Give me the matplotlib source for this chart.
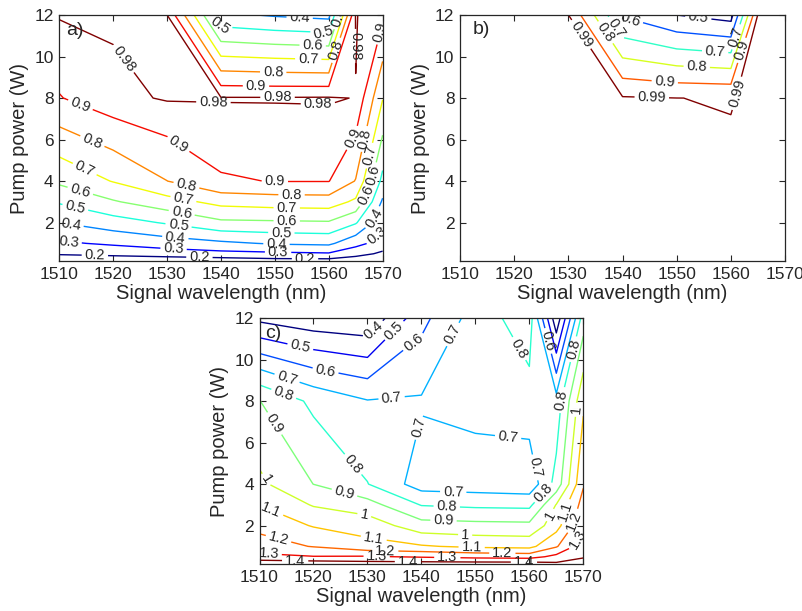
import numpy as np
import matplotlib
matplotlib.use('Agg')
import matplotlib.pyplot as plt

plt.rcParams['font.family'] = ['Liberation Sans', 'DejaVu Sans']

# ---------------- data ----------------
wavelength = [1510, 1520, 1530, 1540, 1550, 1560, 1565, 1570]   # nm
pump_power = [0.15, 0.5, 1, 2, 3, 4, 8, 12]                      # W

# rows: pump power, columns: wavelength
eff_a = [
    [0.13, 0.12, 0.13, 0.14, 0.16, 0.16, 0.13, 0.13],
    [0.21, 0.23, 0.25, 0.27, 0.28, 0.29, 0.24, 0.18],
    [0.285, 0.315, 0.35, 0.38, 0.41, 0.42, 0.33, 0.26],
    [0.40, 0.455, 0.51, 0.58, 0.585, 0.59, 0.51, 0.33],
    [0.51, 0.59, 0.66, 0.73, 0.745, 0.75, 0.68, 0.385],
    [0.62, 0.705, 0.799, 0.89, 0.903, 0.903, 0.795, 0.47],
    [0.895, 0.96, 0.987, 0.985, 0.985, 0.9865, 0.9779, 0.705],
    [0.985, 0.991, 0.981, 0.42, 0.39, 0.37, 0.985, 0.92],
]
eff_b = [
    [0.997, 0.997, 0.998, 0.998, 0.998, 0.998, 0.999, 0.999],
    [0.997, 0.997, 0.998, 0.998, 0.998, 0.998, 0.999, 0.999],
    [0.997, 0.997, 0.998, 0.998, 0.998, 0.998, 0.999, 0.999],
    [0.997, 0.997, 0.998, 0.998, 0.998, 0.998, 0.999, 0.999],
    [0.997, 0.997, 0.998, 0.998, 0.998, 0.998, 0.999, 0.999],
    [0.997, 0.997, 0.998, 0.998, 0.998, 0.998, 0.999, 0.999],
    [0.996, 0.996, 0.997, 0.997, 0.9903, 0.988, 0.999, 0.999],
    [0.995, 0.995, 0.991, 0.59, 0.50, 0.46, 0.995, 0.999],
]
eff_c = [
    [1.48, 1.47, 1.45, 1.45, 1.45, 1.45, 1.42, 1.45],
    [1.326, 1.305, 1.31, 1.29, 1.27, 1.26, 1.33, 1.39],
    [1.244, 1.195, 1.13, 1.11, 1.08, 1.07, 1.19, 1.36],
    [1.171, 1.093, 1.06, 0.94, 0.93, 0.925, 1.06, 1.29],
    [1.098, 0.992, 0.94, 0.795, 0.78, 0.775, 1.005, 1.24],
    [1.021, 0.899, 0.803, 0.653, 0.645, 0.63, 0.836, 1.19],
    [0.902, 0.777, 0.705, 0.71, 0.735, 0.76, 0.738, 1.08],
    [0.375, 0.33, 0.315, 0.57, 0.745, 0.856, 0.326, 0.85],
]

levels_a = [0.2, 0.3, 0.4, 0.5, 0.6, 0.7, 0.8, 0.9, 0.98]
levels_b = [0.5, 0.6, 0.7, 0.8, 0.9, 0.99]
levels_c = [0.4, 0.5, 0.6, 0.7, 0.8, 0.9, 1.0, 1.1, 1.2, 1.3, 1.4]

x_ticks = [1510, 1520, 1530, 1540, 1550, 1560, 1570]
y_ticks = [2, 4, 6, 8, 10, 12]

# contour label anchor points (data coords)
labels_a = [(1516.6, 0.36), (1536, 0.28), (1555.6, 0.23),
            (1511.7, 0.97), (1531.2, 0.68), (1550.6, 0.52), (1568.9, 1.4),
            (1512, 1.73), (1531.5, 1.17), (1550.3, 0.92), (1567.6, 2.3),
            (1512.9, 2.64), (1532.1, 1.81), (1551.2, 1.41), (1567.6, 3.25),
            (1513.8, 3.44), (1532.7, 2.45), (1552.2, 2.05), (1568, 4.3),
            (1514.5, 4.46), (1533, 3.09), (1552.2, 2.69), (1567, 5.26),
            (1515.7, 5.66), (1533.6, 3.81), (1553.1, 3.36), (1566.1, 6.06),
            (1513.8, 7.59), (1531.8, 5.66), (1550, 3.97), (1564, 6.14),
            (1521.6, 9.83), (1538.6, 7.75), (1550.5, 7.99), (1558, 7.62),
            (1549.7, 9.27), (1546.5, 8.6), (1554.6, 11.84), (1559, 10.96),
            (1557, 10.4), (1556.2, 9.83), (1539.8, 11.5),
            (1561.4, 10.3), (1562, 11.9), (1569.5, 11.2), (1564.9, 10.5)]
labels_b = [(1545.4, 7.99), (1561.1, 8.23), (1532.2, 11.04),
            (1547.8, 8.79), (1562, 10.3), (1553.7, 9.51), (1536.5, 11.1),
            (1557.1, 10.23), (1538.9, 11.4), (1541.4, 11.76), (1560.8, 10.96),
            (1554, 11.9)]
labels_c = [(1531.4, 11.35), (1517.5, 10.55), (1534.8, 11.44),
            (1522.2, 9.42), (1539.4, 10.55), (1515.1, 9.1), (1534.5, 8.08),
            (1545.9, 11.2), (1539.4, 6.76), (1556.1, 6.35), (1545.9, 3.66),
            (1561, 4.8), (1568.1, 10.5), (1514.4, 8.29), (1527.1, 4.9),
            (1544.7, 2.97), (1557.7, 10.47), (1562.6, 3.6), (1566, 8.05),
            (1512.3, 6.84), (1525.6, 3.45), (1544.1, 2.32), (1563.5, 2.56),
            (1511, 4.18), (1529.3, 2.32), (1548.1, 1.52),
            (1512, 2.65), (1531.1, 1.27), (1549.3, 0.87), (1566, 2.73),
            (1569.4, 7.56), (1513.5, 1.35), (1533.3, 0.79), (1555.0, 0.63),
            (1567.8, 2.24), (1511.7, 0.63), (1531.7, 0.47), (1544.8, 0.47),
            (1569.4, 1.27), (1516.6, 0.23), (1537.5, 0.23), (1559.0, 0.15),
            (1563.5, 10.9)]

# ---------------- drawing ----------------
TXT = '#262626'
fig = plt.figure(figsize=(8.03, 6.11), dpi=100)

boxes = {
    'a': [0.0738, 0.5728, 0.4027, 0.4026],
    'b': [0.5729, 0.5728, 0.4047, 0.4026],
    'c': [0.3232, 0.0769, 0.4032, 0.4026],
}
panels = [('a', eff_a, levels_a, labels_a, (1511.3, 11.25)),
          ('b', eff_b, levels_b, labels_b, (1512.3, 11.3)),
          ('c', eff_c, levels_c, labels_c, (1511.0, 11.25))]

X, Y = np.meshgrid(wavelength, pump_power)

def fmt(v):
    return f'{v:g}'

for name, z, lev, labpos, tpos in panels:
    ax = fig.add_axes(boxes[name])
    Z = np.array(z)
    cs = ax.contour(X, Y, Z, levels=lev, cmap='jet',
                    vmin=min(lev), vmax=max(lev), linewidths=1.0)
    ax.clabel(cs, inline=True, fontsize=10.5, fmt=fmt, colors=TXT,
              manual=labpos, inline_spacing=3)
    ax.set_xlim(wavelength[0], wavelength[-1])
    ax.set_ylim(pump_power[0], pump_power[-1])
    ax.set_xticks(x_ticks)
    ax.set_yticks(y_ticks)
    ax.tick_params(direction='in', top=True, right=True, length=4,
                   labelsize=12.5, colors=TXT, width=0.8, pad=4)
    for sp in ax.spines.values():
        sp.set_color(TXT)
        sp.set_linewidth(0.9)
    ax.set_xlabel('Signal wavelength (nm)', fontsize=14.5, color=TXT, labelpad=2)
    ax.set_ylabel('Pump power (W)', fontsize=14.5, color=TXT, labelpad=4)
    ax.text(tpos[0], tpos[1], name + ')', fontsize=14, color=TXT,
            va='center', ha='left')

fig.savefig('out.png', dpi=100)
